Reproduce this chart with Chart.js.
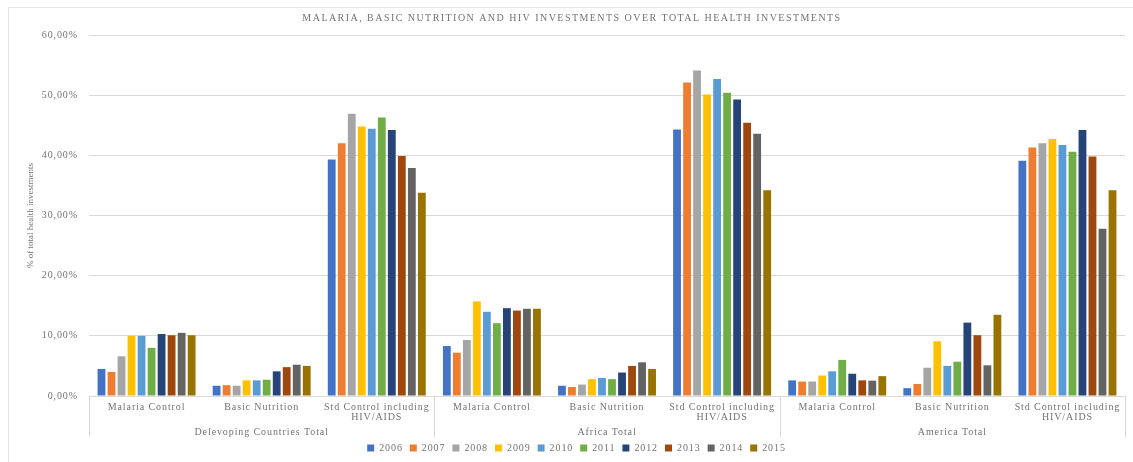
<!DOCTYPE html>
<html>
<head>
<meta charset="utf-8">
<script src="https://cdn.jsdelivr.net/npm/chart.js@4.4.1/dist/chart.umd.min.js"></script>
<style>
html,body{margin:0;padding:0;background:#fff;}
#wrap{width:1133px;height:462px;position:relative;}
</style>
</head>
<body>
<div id="wrap"><canvas id="c"></canvas></div>
<script>
const chartTitle = 'MALARIA, BASIC NUTRITION AND HIV INVESTMENTS OVER TOTAL HEALTH INVESTMENTS';
const yTitle = '% of total health investments';
const groups = ['Delevoping Countries Total', 'Africa Total', 'America Total'];
const categories = [
  'Malaria Control', 'Basic Nutrition', ['Std Control including', 'HIV/AIDS'],
  'Malaria Control', 'Basic Nutrition', ['Std Control including', 'HIV/AIDS'],
  'Malaria Control', 'Basic Nutrition', ['Std Control including', 'HIV/AIDS']
];
const years = ['2006','2007','2008','2009','2010','2011','2012','2013','2014','2015'];
const colors = ['#4472C4','#ED7D31','#A5A5A5','#FFC000','#5B9BD5','#70AD47','#264478','#9E480E','#636363','#997300'];

// values in % (order follows categories)
const v2006 = [4.5, 1.7, 39.3, 8.3, 1.7, 44.3, 2.6, 1.3, 39.1];
const v2007 = [4.0, 1.8, 42.0, 7.2, 1.5, 52.1, 2.4, 2.0, 41.3];
const v2008 = [6.6, 1.7, 46.9, 9.3, 1.9, 54.1, 2.4, 4.7, 42.0];
const v2009 = [10.0, 2.6, 44.8, 15.7, 2.8, 50.1, 3.4, 9.1, 42.7];
const v2010 = [10.0, 2.6, 44.4, 14.0, 3.0, 52.7, 4.1, 5.0, 41.7];
const v2011 = [8.0, 2.7, 46.3, 12.1, 2.8, 50.4, 6.0, 5.7, 40.6];
const v2012 = [10.3, 4.1, 44.2, 14.6, 3.9, 49.3, 3.7, 12.2, 44.2];
const v2013 = [10.1, 4.8, 39.9, 14.2, 5.0, 45.4, 2.6, 10.1, 39.8];
const v2014 = [10.5, 5.2, 37.9, 14.5, 5.6, 43.6, 2.55, 5.1, 27.8];
const v2015 = [10.1, 5.0, 33.8, 14.5, 4.5, 34.2, 3.3, 13.5, 34.2];
const series = [v2006, v2007, v2008, v2009, v2010, v2011, v2012, v2013, v2014, v2015];

const FONT = "'Liberation Serif', 'Times New Roman', serif";
const TXT = '#727272';
const SPACING = '0.9px';

function setSpacing(chart){ chart.ctx.letterSpacing = SPACING; }

const extras = {
  id: 'extras',
  beforeUpdate: setSpacing,
  beforeLayout: setSpacing,
  beforeDraw(chart){
    setSpacing(chart);
    const ctx = chart.ctx;
    ctx.save();
    ctx.strokeStyle = '#e4e4e4';
    ctx.lineWidth = 1;
    ctx.beginPath();
    ctx.moveTo(8.5, 462); ctx.lineTo(8.5, 7.5); ctx.lineTo(1133, 7.5);
    ctx.stroke();
    ctx.restore();
  },
  afterDraw(chart){
    const ctx = chart.ctx;
    const x = chart.scales.x;
    const area = chart.chartArea;
    const n = categories.length;
    const catW = (x.right - x.left) / n;
    ctx.save();
    // title
    ctx.letterSpacing = '1.45px';
    ctx.fillStyle = TXT;
    ctx.font = '10px ' + FONT;
    ctx.textAlign = 'center';
    ctx.textBaseline = 'middle';
    ctx.fillText(chartTitle, 572, 18);
    // group separators
    ctx.strokeStyle = '#d9d9d9';
    ctx.lineWidth = 1;
    ctx.beginPath();
    for (let g = 0; g <= groups.length; g++) {
      const px = Math.round(x.left + g * 3 * catW) + 0.5;
      ctx.moveTo(px, area.bottom);
      ctx.lineTo(px, area.bottom + 41);
    }
    ctx.stroke();
    // group labels
    ctx.font = '10px ' + FONT;
    ctx.letterSpacing = '0.9px';
    groups.forEach((g, i) => {
      ctx.fillText(g, x.left + (i * 3 + 1.5) * catW, area.bottom + 36);
    });
    // y title
    ctx.letterSpacing = '0px';
    ctx.font = '9px ' + FONT;
    ctx.translate(31, (area.top + area.bottom) / 2);
    ctx.rotate(-Math.PI / 2);
    ctx.fillText(yTitle, 0, 0);
    ctx.restore();
    setSpacing(chart);
  }
};

new Chart(document.getElementById('c'), {
  type: 'bar',
  data: {
    labels: categories,
    datasets: years.map((y, i) => ({
      label: y,
      data: series[i],
      backgroundColor: colors[i],
      borderWidth: 0,
      barPercentage: 0.78,
      categoryPercentage: 0.87
    }))
  },
  options: {
    responsive: true,
    maintainAspectRatio: false,
    animation: false,
    layout: { padding: { left: 28, right: 8, top: 35, bottom: -1 } },
    plugins: {
      title: { display: false },
      tooltip: { enabled: false },
      legend: {
        position: 'bottom',
        labels: {
          boxWidth: 7, boxHeight: 7, padding: 7,
          color: TXT,
          font: { family: FONT, size: 10 }
        }
      }
    },
    scales: {
      x: {
        grid: { display: false },
        border: { display: false },
        ticks: {
          color: TXT, font: { family: FONT, size: 10, lineHeight: 1.05 },
          maxRotation: 0, minRotation: 0, autoSkip: false, padding: -2
        },
        afterFit(s){ s.height = 40; }
      },
      y: {
        min: 0, max: 60,
        grid: { color: '#d9d9d9', drawTicks: false },
        border: { display: false },
        ticks: {
          stepSize: 10, padding: 11, color: TXT,
          font: { family: FONT, size: 10 },
          callback: v => v.toFixed(2).replace('.', ',') + '%'
        },
        afterFit(s){ s.width = 61; }
      }
    }
  },
  plugins: [extras]
});
</script>
</body>
</html>
